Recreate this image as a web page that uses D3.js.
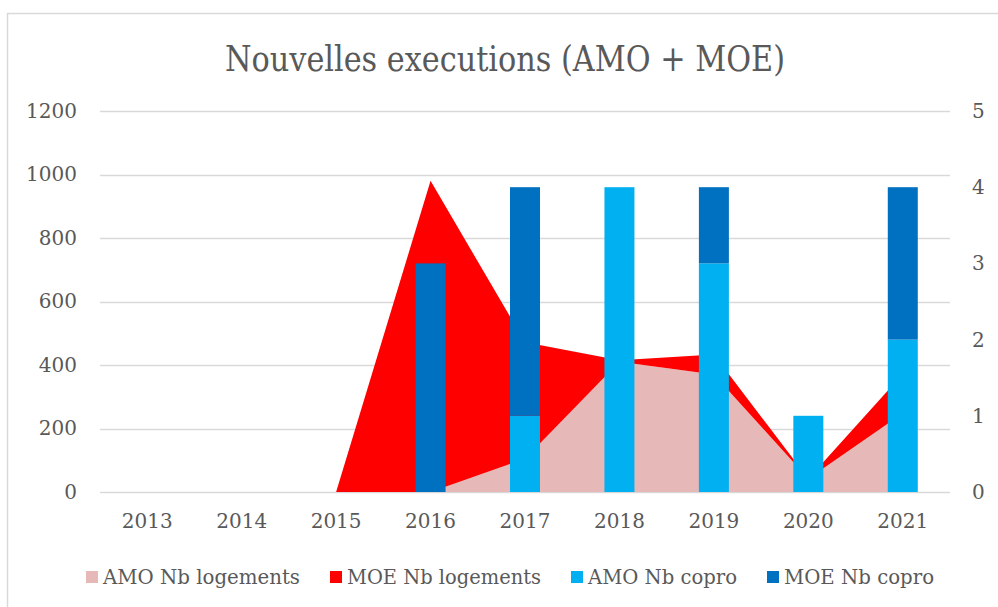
<!DOCTYPE html>
<html><head><meta charset="utf-8">
<script src="https://cdn.jsdelivr.net/npm/d3@7"></script>
<style>
html,body{margin:0;padding:0;background:#fff;}
svg{display:block;}
text{font-family:"DejaVu Serif Condensed","DejaVu Serif",serif;fill:#595959;}
</style></head>
<body>
<script>
const categories = ["2013","2014","2015","2016","2017","2018","2019","2020","2021"];
const amoLogements = [0,0,0,0,105,410,370,42,248];
const moeLogements = [0,0,0,980,367,5,63,0,124];
const amoCopro = [0,0,0,0,1,4,3,1,2];
const moeCopro = [0,0,0,3,3,0,1,0,2];
const leftTicks = [0,200,400,600,800,1000,1200];
const rightTicks = [0,1,2,3,4,5];
const seriesNames = ["AMO Nb logements","MOE Nb logements","AMO Nb copro","MOE Nb copro"];
const colors = ["#E6B8B7","#FF0000","#00B0F0","#0070C0"];

const W = 998, H = 607;
const svg = d3.select("body").append("svg").attr("width",W).attr("height",H);

// chart frame
svg.append("rect").attr("x",7.5).attr("y",13.5).attr("width",1000).attr("height",620)
  .attr("fill","#fff").attr("stroke","#D9D9D9").attr("stroke-width",1.5);

const x = d3.scaleBand().domain(categories).range([100,950]).padding(0);
const yL = d3.scaleLinear().domain([0,1200]).range([492,111]);
const yR = d3.scaleLinear().domain([0,5]).range([492,111]);
const cx = c => x(c) + x.bandwidth()/2;

// gridlines
svg.append("g").selectAll("line").data(leftTicks).join("line")
  .attr("x1",100).attr("x2",950)
  .attr("y1",d=>Math.round(yL(d))+0.5).attr("y2",d=>Math.round(yL(d))+0.5)
  .attr("stroke","#D9D9D9").attr("stroke-width",1.3);

// stacked areas
const rows = categories.map((c,i)=>({c, amo:amoLogements[i], moe:moeLogements[i]}));
const stackA = d3.stack().keys(["amo","moe"])(rows);
const area = d3.area().x(d=>cx(d.data.c)).y0(d=>yL(d[0])).y1(d=>yL(d[1]));
svg.append("g").selectAll("path").data(stackA).join("path")
  .attr("d",area).attr("fill",(d,i)=>colors[i]);

// stacked bars
const rowsB = categories.map((c,i)=>({c, amo:amoCopro[i], moe:moeCopro[i]}));
const stackB = d3.stack().keys(["amo","moe"])(rowsB);
const barW = 30;
svg.append("g").selectAll("g").data(stackB).join("g")
  .attr("fill",(d,i)=>colors[i+2])
  .selectAll("rect").data(d=>d).join("rect")
  .attr("x",d=>cx(d.data.c)-barW/2).attr("width",barW)
  .attr("y",d=>yR(d[1])).attr("height",d=>yR(d[0])-yR(d[1]));

// axes
const axL = svg.append("g").attr("transform","translate(77,0)")
  .call(d3.axisLeft(yL).tickValues(leftTicks).tickFormat(d3.format("d")).tickSize(0).tickPadding(0));
const axR = svg.append("g").attr("transform","translate(972,0)")
  .call(d3.axisRight(yR).tickValues(rightTicks).tickFormat(d3.format("d")).tickSize(0).tickPadding(0));
const axB = svg.append("g").attr("transform","translate(0,492)")
  .call(d3.axisBottom(x).tickSize(0).tickPadding(22));
[axL,axR,axB].forEach(a=>{
  a.select(".domain").remove();
  a.selectAll("text").attr("font-size",20).attr("fill","#595959")
   .style("font-family",'"DejaVu Serif",serif');
});

// title
const title = svg.append("text").attr("x",505).attr("y",71).attr("text-anchor","middle")
  .attr("font-size",36).text("Nouvelles executions (AMO + MOE)");
const tl = title.node().getComputedTextLength();
if (Math.abs(tl-560) > 4) title.attr("textLength",560).attr("lengthAdjust","spacingAndGlyphs");

// legend
const legX = [86,330,571,767];
const legW = [197,194,149,150];
const leg = svg.append("g");
seriesNames.forEach((n,i)=>{
  leg.append("rect").attr("x",legX[i]).attr("y",571).attr("width",12).attr("height",12).attr("fill",colors[i]);
  const t = leg.append("text").attr("x",legX[i]+17).attr("y",584).attr("font-size",20).text(n);
  const l = t.node().getComputedTextLength();
  if (Math.abs(l-legW[i])>3) t.attr("textLength",legW[i]).attr("lengthAdjust","spacingAndGlyphs");
});
</script>
</body></html>
